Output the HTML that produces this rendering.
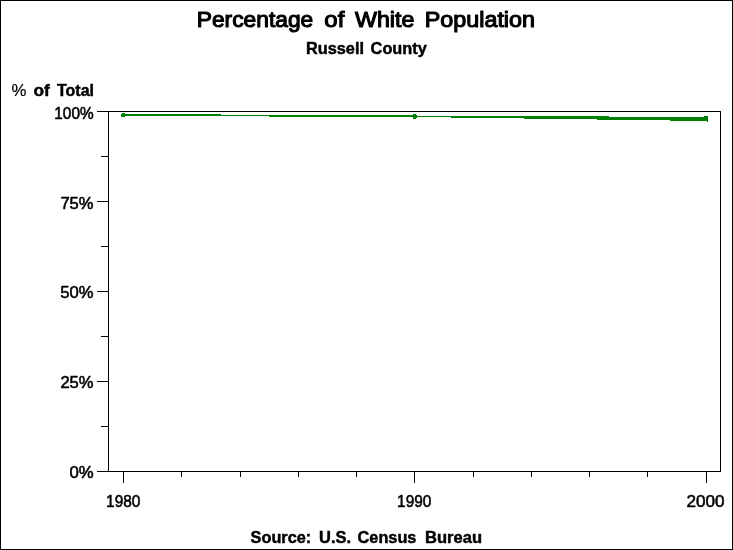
<!DOCTYPE html>
<html>
<head>
<meta charset="utf-8">
<title>Percentage of White Population</title>
<style>
html,body{margin:0;padding:0;background:#fff;}
body{width:733px;height:550px;overflow:hidden;}
svg{display:block;will-change:transform;}
text{font-family:"Liberation Sans",sans-serif;fill:#000;}
.b{font-weight:bold;}
</style>
</head>
<body>
<svg width="733" height="550" viewBox="0 0 733 550">
<rect x="0" y="0" width="733" height="550" fill="#fff"/>
<!-- outer border -->
<g shape-rendering="crispEdges" fill="#000">
<rect x="0" y="0" width="733" height="1"/>
<rect x="0" y="549" width="733" height="1"/>
<rect x="0" y="0" width="1" height="550"/>
<rect x="732" y="0" width="1" height="550"/>
<!-- plot frame -->
<rect x="108" y="111" width="613" height="1"/>
<rect x="108" y="471" width="613" height="1"/>
<rect x="108" y="111" width="1" height="361"/>
<rect x="720" y="111" width="1" height="361"/>
<!-- y major ticks -->
<rect x="97" y="111" width="11" height="1"/>
<rect x="97" y="201" width="11" height="1"/>
<rect x="97" y="291" width="11" height="1"/>
<rect x="97" y="381" width="11" height="1"/>
<rect x="97" y="471" width="11" height="1"/>
<!-- y minor ticks -->
<rect x="101" y="156" width="7" height="1"/>
<rect x="101" y="246" width="7" height="1"/>
<rect x="101" y="336" width="7" height="1"/>
<rect x="101" y="426" width="7" height="1"/>
<!-- x major ticks -->
<rect x="123" y="471" width="1" height="12"/>
<rect x="414" y="471" width="1" height="12"/>
<rect x="706" y="471" width="1" height="12"/>
<!-- x minor ticks -->
<rect x="181" y="471" width="1" height="6"/>
<rect x="240" y="471" width="1" height="6"/>
<rect x="298" y="471" width="1" height="6"/>
<rect x="356" y="471" width="1" height="6"/>
<rect x="473" y="471" width="1" height="6"/>
<rect x="531" y="471" width="1" height="6"/>
<rect x="589" y="471" width="1" height="6"/>
<rect x="647" y="471" width="1" height="6"/>
</g>
<!-- data line -->
<g shape-rendering="crispEdges" fill="#008000">
<!-- marker 1980 -->
<rect x="122" y="113" width="3" height="4"/>
<rect x="121" y="114" width="1" height="3"/>
<!-- seg 1 -->
<rect x="124" y="114" width="97" height="1"/>
<rect x="124" y="115" width="289" height="1"/>
<rect x="269" y="116" width="144" height="1"/>
<!-- marker 1990 -->
<rect x="413" y="114" width="3" height="5"/>
<rect x="416" y="115" width="1" height="3"/>
<!-- seg 2 -->
<rect x="417" y="116" width="192" height="1"/>
<rect x="451" y="117" width="253" height="1"/>
<rect x="524" y="118" width="180" height="1"/>
<rect x="597" y="119" width="107" height="1"/>
<rect x="670" y="120" width="34" height="1"/>
<!-- marker 2000 -->
<rect x="704" y="116" width="4" height="5"/>
<rect x="707" y="121" width="1" height="1"/>
</g>
<!-- title -->
<g font-size="21.9" stroke="#000" stroke-width="1.1" stroke-linejoin="round">
<text id="t1" x="196.7" y="27.2" textLength="116.6" lengthAdjust="spacingAndGlyphs">Percentage</text>
<text id="t2" x="324.3" y="27.2" textLength="20" lengthAdjust="spacingAndGlyphs">of</text>
<text id="t3" x="355" y="27.2" textLength="59.4" lengthAdjust="spacingAndGlyphs">White</text>
<text id="t4" x="424.8" y="27.2" textLength="110.2" lengthAdjust="spacingAndGlyphs">Population</text>
</g>
<!-- subtitle -->
<g font-size="16.2" class="b" stroke="#000" stroke-width="0.45" stroke-linejoin="round">
<text id="s1" x="306" y="53.7" textLength="58" lengthAdjust="spacingAndGlyphs">Russell</text>
<text id="s2" x="370.6" y="53.7" textLength="56.2" lengthAdjust="spacingAndGlyphs">County</text>
</g>
<!-- y label -->
<g font-size="15.8" stroke="#000" stroke-width="0.45" stroke-linejoin="round">
<text id="l1" stroke-width="0.2" font-size="16.2" x="11.5" y="96.4" textLength="15" lengthAdjust="spacingAndGlyphs">%</text>
<text id="l2" class="b" x="33.5" y="96.4" textLength="16.3" lengthAdjust="spacingAndGlyphs">of</text>
<text id="l3" class="b" x="57" y="96.4" textLength="37" lengthAdjust="spacingAndGlyphs">Total</text>
</g>
<!-- y tick labels -->
<g font-size="16.4" stroke="#000" stroke-width="0.55" stroke-linejoin="round">
<text id="y1" x="54.3" y="118.5" textLength="39.3" lengthAdjust="spacingAndGlyphs">100%</text>
<text id="y2" x="60.4" y="208.5" textLength="33.2" lengthAdjust="spacingAndGlyphs">75%</text>
<text id="y3" x="60.3" y="298.4" textLength="33.3" lengthAdjust="spacingAndGlyphs">50%</text>
<text id="y4" x="60.4" y="388" textLength="33.2" lengthAdjust="spacingAndGlyphs">25%</text>
<text id="y5" x="69.4" y="478" textLength="24.2" lengthAdjust="spacingAndGlyphs">0%</text>
</g>
<!-- x tick labels -->
<g font-size="16.6" stroke="#000" stroke-width="0.55" stroke-linejoin="round">
<text id="x1" x="106.1" y="507" textLength="34.3" lengthAdjust="spacingAndGlyphs">1980</text>
<text id="x2" x="397.1" y="507" textLength="34.3" lengthAdjust="spacingAndGlyphs">1990</text>
<text id="x3" x="686.5" y="507" textLength="38" lengthAdjust="spacingAndGlyphs">2000</text>
</g>
<!-- footer -->
<g font-size="16.2" class="b" stroke="#000" stroke-width="0.45" stroke-linejoin="round">
<text id="f1" x="250.6" y="542.7" textLength="60.6" lengthAdjust="spacingAndGlyphs">Source:</text>
<text id="f2" x="319" y="542.7" textLength="32" lengthAdjust="spacingAndGlyphs">U.S.</text>
<text id="f3" x="357.6" y="542.7" textLength="58.8" lengthAdjust="spacingAndGlyphs">Census</text>
<text id="f4" x="425" y="542.7" textLength="57" lengthAdjust="spacingAndGlyphs">Bureau</text>
</g>
</svg>
</body>
</html>
